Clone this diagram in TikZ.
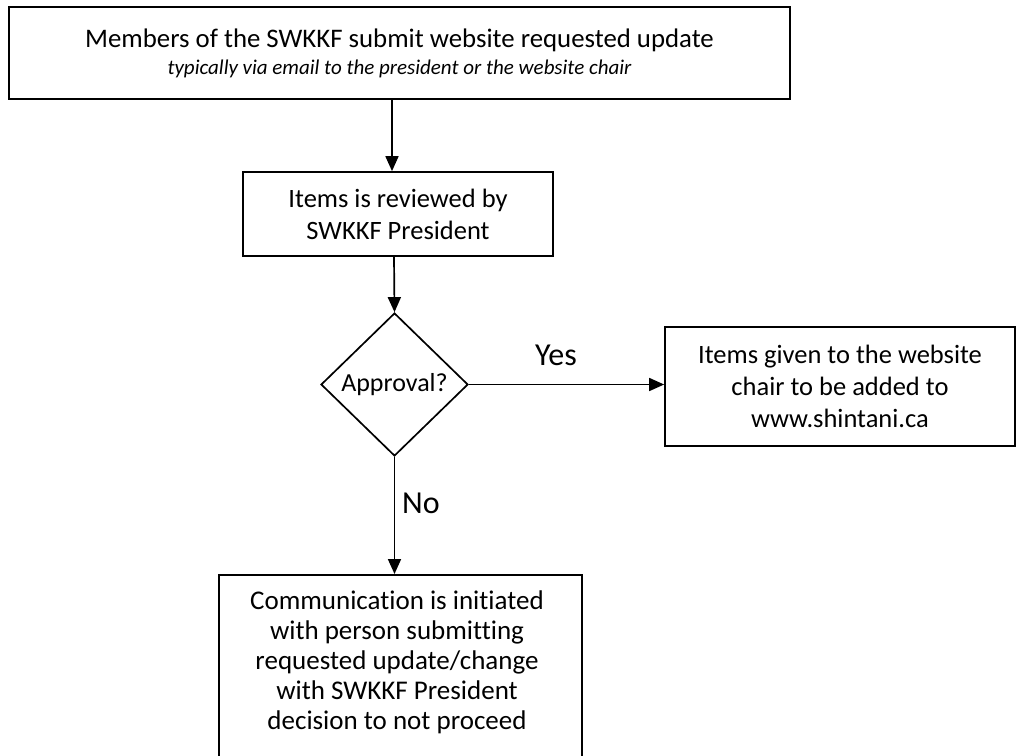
\documentclass[tikz,border=0pt]{standalone}
\usepackage{fontspec}
\setmainfont[Ligatures=NoCommon]{Carlito}
\usetikzlibrary{shapes.geometric,arrows.meta}
\begin{document}
\begin{tikzpicture}[x=1pt,y=-1pt,
  boxline/.style={draw=black,line width=1.7pt},
  procbox/.style={boxline,rectangle,inner sep=0pt,align=center,font=\fontsize{26.5}{32}\selectfont},
  decbox/.style={boxline,diamond,inner sep=0pt,font=\fontsize{26}{30}\selectfont},
  conn/.style={line width=1.7pt,-{Triangle[length=15pt,width=13pt]}},
  lbl/.style={inner sep=0pt,font=\fontsize{32}{36}\selectfont}]
\useasboundingbox (0,0) rectangle (1019,755);
\clip (0,0) rectangle (1019,755);
\fill[white] (0,0) rectangle (1019,755);

\node[procbox,minimum width=781pt,minimum height=92pt] (top) at (399.5,53)
  {\fontsize{26.8}{30}\selectfont Members of the SWKKF submit website requested update\\[-5pt]
   \fontsize{21}{24}\selectfont\itshape typically via email to the president or the website chair};

\node[procbox,minimum width=310pt,minimum height=84pt] (rev) at (398,214)
  {Items is reviewed by\\SWKKF President};

\node[decbox,minimum width=147pt,minimum height=143pt] (dec) at (394.5,384.5) {Approval?};

\node[procbox,minimum width=350pt,minimum height=119pt] (yesbox) at (840,386.5)
  {Items given to the website\\chair to be added to\\www.shintani.ca};

\node[boxline,rectangle,minimum width=363pt,minimum height=220pt,anchor=north,inner sep=0pt] (nobox) at (400.5,574) {};
\node[inner sep=0pt,align=center,font=\fontsize{27}{30}\selectfont] (notxt) at (397,662)
  {Communication is initiated\\with person submitting\\requested update/change\\with SWKKF President\\decision to not proceed};

\coordinate (c1) at (392,0);
\coordinate (c2) at (394,0);

\draw[conn] (c1 |- top.south) -- (c1 |- rev.north);
\draw[conn] (c2 |- rev.south) -- (dec.north);
\draw[conn] (dec.east) -- (yesbox.west |- dec.east);
\draw[conn] (dec.south) -- (dec.south |- nobox.north);

\node[lbl] (yes) at (556,355) {Yes};
\node[lbl] (no) at (421,503) {No};
\end{tikzpicture}
\end{document}
